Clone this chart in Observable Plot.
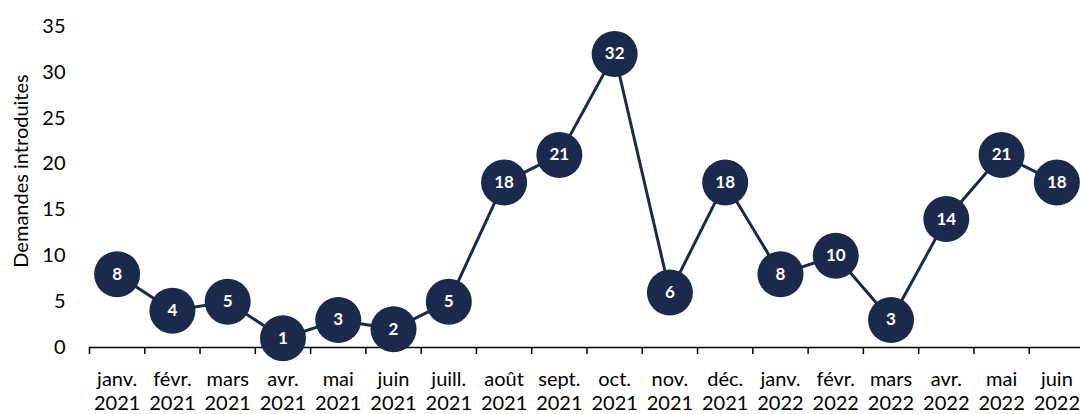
<!DOCTYPE html>
<html>
<head>
<meta charset="utf-8">
<script src="https://cdn.jsdelivr.net/npm/d3@7"></script>
<script src="https://cdn.jsdelivr.net/npm/@observablehq/plot@0.6"></script>
<style>
  html, body { margin: 0; padding: 0; background: #fff; }
  #chart svg { font-family: Lato, "Open Sans", sans-serif; }
</style>
</head>
<body>
<div id="chart"></div>
<script>
const months = ["janv.", "févr.", "mars", "avr.", "mai", "juin", "juill.", "août", "sept.", "oct.", "nov.", "déc.", "janv.", "févr.", "mars", "avr.", "mai", "juin"];
const years = ["2021", "2021", "2021", "2021", "2021", "2021", "2021", "2021", "2021", "2021", "2021", "2021", "2022", "2022", "2022", "2022", "2022", "2022"];
const values = [8, 4, 5, 1, 3, 2, 5, 18, 21, 32, 6, 18, 8, 10, 3, 14, 21, 18];
const yTicks = [0, 5, 10, 15, 20, 25, 30, 35];
const yTitle = "Demandes introduites";

const color = "#1b2a4c";
const data = values.map((v, i) => ({i: i + 0.5, v, label: months[i] + "\n" + years[i]}));
const boundaries = d3.range(0, months.length + 1);

const chart = Plot.plot({
  width: 1080,
  height: 414,
  marginTop: 26,
  marginBottom: 67,
  marginLeft: 89,
  marginRight: 0,
  style: {fontSize: "20px", fontFamily: "Lato, 'Open Sans', sans-serif", color: "#000", background: "#fff", overflow: "visible"},
  x: {type: "linear", domain: [0, months.length], range: [89, 1084], axis: null},
  y: {type: "linear", domain: [0, 35], axis: null},
  marks: [
    Plot.axisY({ticks: yTicks, tickSize: 0, tickPadding: 24, label: null, fontSize: 20}),
    Plot.text([yTitle], {frameAnchor: "left", textAnchor: "middle", rotate: -90, dx: -68, dy: -16, fontSize: 20, fill: "#000"}),
    Plot.ruleY([0], {x1: 0, x2: months.length, stroke: "#000", strokeWidth: 1.5}),
    Plot.axisX({ticks: boundaries, tickFormat: () => "", tickSize: 7, label: null, stroke: "#000", strokeWidth: 1.5}),
    Plot.text(data, {x: "i", y: 0, text: "label", lineAnchor: "top", dy: 21, lineHeight: 1.22, fontSize: 20, fill: "#000"}),
    Plot.line(data, {x: "i", y: "v", stroke: color, strokeWidth: 3}),
    Plot.dot(data, {x: "i", y: "v", r: 23, fill: color, stroke: "none"}),
    Plot.text(data, {x: "i", y: "v", text: d => String(d.v), fill: "#fff", fontWeight: "bold", fontSize: 17})
  ]
});
document.getElementById("chart").appendChild(chart);
</script>
</body>
</html>
